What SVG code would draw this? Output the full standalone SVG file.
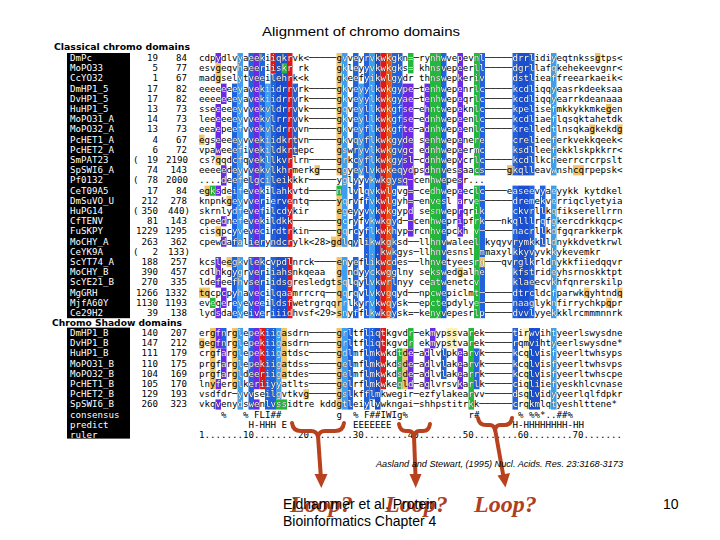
<svg xmlns="http://www.w3.org/2000/svg" width="720" height="540" viewBox="0 0 720 540">
<style>
.s{font-family:"DejaVu Sans Mono","Liberation Mono",monospace;font-size:9.14px}
.n{text-anchor:end}
.lb{fill:#fff}
.hd{font-family:"DejaVu Sans","Liberation Sans",sans-serif;font-size:8.6px;font-weight:bold}
.P{fill:#6b2ae6}.B{fill:#2163df}.L{fill:#3e9ff0}.D{fill:#1b4fd0}.R{fill:#e3161d}.O{fill:#ec5418}.G{fill:#23b83c}.T{fill:#f1c469}.C{fill:#fff1b6}
.br{fill:none;stroke:#b8421e;stroke-width:4;stroke-linecap:round;stroke-linejoin:round}
.ah{fill:#b8421e}
.loop{font-family:"Liberation Serif",serif;font-size:24px;font-weight:bold;font-style:italic;fill:#b0401d}
.ft{font-family:"Liberation Sans",Arial,sans-serif;font-size:14px;fill:#000}
</style>
<defs>
<filter id="wht" filterUnits="userSpaceOnUse" x="0" y="0" width="720" height="540" color-interpolation-filters="sRGB"><feColorMatrix type="matrix" values="0 0 0 0 1 0 0 0 0 1 0 0 0 0 1 0 0 0 1 0"/></filter>
<mask id="dm" maskUnits="userSpaceOnUse" x="0" y="0" width="720" height="540"><use href="#cellsDark" filter="url(#wht)"/></mask>
</defs>
<rect width="720" height="540" fill="#fff"/>
<text id="title" x="262" y="36" font-family="Liberation Sans, Arial, sans-serif" font-size="13" textLength="198" lengthAdjust="spacingAndGlyphs">Alignment of chromo domains</text>
<text class="hd" x="54" y="50" textLength="136" lengthAdjust="spacingAndGlyphs">Classical chromo domains</text>
<text class="hd" x="52" y="325.5" textLength="130" lengthAdjust="spacingAndGlyphs">Chromo Shadow domains</text>

<g id="cellsDark">
<rect class="P" x="215.5" y="53" width="5.5" height="10.2"/>
<rect class="P" x="215.5" y="104" width="5.5" height="51"/>
<rect class="P" x="215.5" y="185.6" width="5.5" height="10.2"/>
<rect class="P" x="215.5" y="257" width="5.5" height="30.6"/>
<rect class="P" x="215.5" y="308" width="5.5" height="10.2"/>
<rect class="P" x="221" y="83.6" width="5.5" height="20.4"/>
<rect class="P" x="221" y="165.2" width="5.5" height="20.4"/>
<rect class="P" x="221" y="216.2" width="5.5" height="10.2"/>
<rect class="P" x="221" y="236.6" width="5.5" height="10.2"/>
<rect class="P" x="221" y="287.6" width="5.5" height="20.4"/>
<rect class="G" x="210" y="185.6" width="5.5" height="10.2"/>
<rect class="G" x="210" y="297.8" width="5.5" height="10.2"/>
<rect class="B" x="232" y="83.6" width="5.5" height="163.2"/>
<rect class="B" x="232" y="257" width="5.5" height="61.2"/>
<rect class="L" x="237.5" y="53" width="5.5" height="193.8"/>
<rect class="L" x="237.5" y="257" width="5.5" height="61.2"/>
<rect class="B" x="248.5" y="53" width="5.5" height="193.8"/>
<rect class="B" x="248.5" y="257" width="5.5" height="61.2"/>
<rect class="P" x="254" y="53" width="5.5" height="193.8"/>
<rect class="P" x="254" y="257" width="5.5" height="61.2"/>
<rect class="B" x="259.5" y="53" width="5.5" height="193.8"/>
<rect class="B" x="259.5" y="257" width="5.5" height="61.2"/>
<rect class="L" x="265" y="83.6" width="5.5" height="102"/>
<rect class="R" x="270.5" y="53" width="5.5" height="20.4"/>
<rect class="B" x="270.5" y="73.4" width="5.5" height="173.4"/>
<rect class="B" x="270.5" y="257" width="5.5" height="61.2"/>
<rect class="D" x="276" y="53" width="11" height="193.8"/>
<rect class="D" x="276" y="257" width="11" height="61.2"/>
<rect class="G" x="281.5" y="63.2" width="5.5" height="10.2"/>
<rect class="R" x="287" y="53" width="5.5" height="193.8"/>
<rect class="R" x="287" y="257" width="5.5" height="61.2"/>
<rect class="B" x="292.5" y="83.6" width="5.5" height="71.4"/>
<rect class="G" x="336.5" y="185.6" width="5.5" height="10.2"/>
<rect class="L" x="342" y="53" width="5.5" height="193.8"/>
<rect class="L" x="342" y="257" width="5.5" height="61.2"/>
<rect class="B" x="353" y="53" width="5.5" height="193.8"/>
<rect class="B" x="353" y="257" width="5.5" height="61.2"/>
<rect class="L" x="358.5" y="83.6" width="5.5" height="91.8"/>
<rect class="B" x="364" y="53" width="5.5" height="265.2"/>
<rect class="L" x="369.5" y="53" width="5.5" height="265.2"/>
<rect class="D" x="375" y="53" width="5.5" height="265.2"/>
<rect class="R" x="380.5" y="53" width="5.5" height="265.2"/>
<rect class="O" x="386" y="53" width="5.5" height="265.2"/>
<rect class="B" x="391.5" y="53" width="5.5" height="265.2"/>
<rect class="B" x="397" y="53" width="5.5" height="132.6"/>
<rect class="P" x="402.5" y="83.6" width="5.5" height="102"/>
<rect class="G" x="408" y="53" width="5.5" height="20.4"/>
<rect class="P" x="408" y="83.6" width="5.5" height="153"/>
<rect class="P" x="424.5" y="83.6" width="5.5" height="91.8"/>
<rect class="G" x="430" y="53" width="11" height="265.2"/>
<rect class="B" x="441" y="53" width="5.5" height="265.2"/>
<rect class="P" x="457.5" y="53" width="5.5" height="183.6"/>
<rect class="G" x="474" y="53" width="5.5" height="122.4"/>
<rect class="G" x="474" y="185.6" width="5.5" height="132.6"/>
<rect class="B" x="479.5" y="53" width="5.5" height="122.4"/>
<rect class="B" x="479.5" y="185.6" width="5.5" height="132.6"/>
<rect class="B" x="512.5" y="53" width="5.5" height="122.4"/>
<rect class="B" x="512.5" y="185.6" width="5.5" height="132.6"/>
<rect class="D" x="518" y="53" width="11" height="122.4"/>
<rect class="D" x="518" y="185.6" width="11" height="132.6"/>
<rect class="B" x="529" y="53" width="5.5" height="122.4"/>
<rect class="B" x="529" y="185.6" width="5.5" height="132.6"/>
<rect class="B" x="540" y="185.6" width="5.5" height="61.2"/>
<rect class="L" x="551" y="53" width="5.5" height="122.4"/>
<rect class="L" x="551" y="185.6" width="5.5" height="132.6"/>
<rect class="P" x="215.5" y="328" width="5.5" height="20.4"/>
<rect class="P" x="215.5" y="379" width="5.5" height="10.2"/>
<rect class="P" x="215.5" y="399.4" width="5.5" height="10.2"/>
<rect class="B" x="221" y="328" width="5.5" height="20.4"/>
<rect class="P" x="221" y="348.4" width="5.5" height="30.6"/>
<rect class="L" x="237.5" y="328" width="5.5" height="81.6"/>
<rect class="B" x="248.5" y="328" width="5.5" height="81.6"/>
<rect class="P" x="254" y="328" width="5.5" height="61.2"/>
<rect class="P" x="254" y="399.4" width="5.5" height="10.2"/>
<rect class="R" x="259.5" y="328" width="5.5" height="61.2"/>
<rect class="B" x="265" y="328" width="11" height="81.6"/>
<rect class="L" x="276" y="328" width="5.5" height="71.4"/>
<rect class="G" x="276" y="399.4" width="11" height="10.2"/>
<rect class="L" x="342" y="328" width="5.5" height="81.6"/>
<rect class="B" x="347.5" y="328" width="5.5" height="81.6"/>
<rect class="B" x="364" y="328" width="5.5" height="81.6"/>
<rect class="B" x="369.5" y="328" width="5.5" height="71.4"/>
<rect class="D" x="375" y="328" width="5.5" height="81.6"/>
<rect class="R" x="380.5" y="328" width="5.5" height="61.2"/>
<rect class="G" x="397" y="348.4" width="5.5" height="40.8"/>
<rect class="G" x="408" y="328" width="5.5" height="20.4"/>
<rect class="P" x="408" y="348.4" width="5.5" height="40.8"/>
<rect class="P" x="424.5" y="348.4" width="5.5" height="40.8"/>
<rect class="P" x="430" y="328" width="5.5" height="20.4"/>
<rect class="B" x="441" y="348.4" width="5.5" height="30.6"/>
<rect class="P" x="457.5" y="348.4" width="5.5" height="40.8"/>
<rect class="G" x="468.5" y="328" width="5.5" height="81.6"/>
<rect class="B" x="474" y="348.4" width="5.5" height="40.8"/>
<rect class="B" x="512.5" y="328" width="5.5" height="81.6"/>
<rect class="D" x="529" y="328" width="11" height="81.6"/>
<rect class="L" x="551" y="328" width="5.5" height="81.6"/>
</g>
<g id="cellsLight">
<rect class="T" x="215.5" y="63.2" width="5.5" height="20.4"/>
<rect class="T" x="215.5" y="155" width="5.5" height="10.2"/>
<rect class="T" x="215.5" y="226.4" width="5.5" height="10.2"/>
<rect class="T" x="199" y="134.6" width="5.5" height="10.2"/>
<rect class="T" x="204.5" y="185.6" width="5.5" height="10.2"/>
<rect class="T" x="226.5" y="195.8" width="5.5" height="10.2"/>
<rect class="T" x="226.5" y="257" width="5.5" height="10.2"/>
<rect class="T" x="199" y="287.6" width="11" height="10.2"/>
<rect class="T" x="336.5" y="53" width="5.5" height="122.4"/>
<rect class="T" x="336.5" y="195.8" width="5.5" height="51"/>
<rect class="T" x="336.5" y="257" width="5.5" height="61.2"/>
<rect class="T" x="314.5" y="165.2" width="5.5" height="10.2"/>
<rect class="T" x="331" y="236.6" width="5.5" height="10.2"/>
<rect class="T" x="507" y="165.2" width="5.5" height="10.2"/>
<rect class="T" x="595" y="53" width="5.5" height="10.2"/>
<rect class="T" x="606" y="104" width="5.5" height="10.2"/>
<rect class="T" x="589.5" y="124.4" width="5.5" height="10.2"/>
<rect class="T" x="617" y="124.4" width="5.5" height="10.2"/>
<rect class="T" x="573" y="165.2" width="11" height="10.2"/>
<rect class="T" x="584" y="287.6" width="5.5" height="10.2"/>
<rect class="T" x="617" y="287.6" width="5.5" height="10.2"/>
<rect class="T" x="606" y="297.8" width="5.5" height="10.2"/>
<rect class="T" x="479.5" y="257" width="5.5" height="10.2"/>
<rect class="T" x="457.5" y="267.2" width="5.5" height="10.2"/>
<rect class="T" x="210" y="328" width="5.5" height="61.2"/>
<rect class="T" x="199" y="338.2" width="5.5" height="10.2"/>
<rect class="T" x="232" y="328" width="5.5" height="61.2"/>
<rect class="T" x="281.5" y="328" width="5.5" height="51"/>
<rect class="T" x="303.5" y="389.2" width="5.5" height="10.2"/>
<rect class="T" x="336.5" y="328" width="5.5" height="81.6"/>
<rect class="T" x="402.5" y="348.4" width="5.5" height="40.8"/>
<rect class="C" x="446.5" y="328" width="11" height="20.4"/>
<rect class="C" x="523.5" y="328" width="5.5" height="81.6"/>
</g>

<g id="seq" class="s" xml:space="preserve">
<text y="61"><tspan x="199">cdpydlvyaeekiiqkrvk&lt;─────</tspan><tspan x="336.5">gvveyrvkwkgkn=─rynhwvepevnl─────</tspan><tspan x="512.5">drrlidiyeqtnkssgtps&lt;</tspan></text>
<text y="71.2"><tspan x="199">esvgeqvhaeeriiskr rk</tspan><tspan x="336.5">gkleyyvkwkgks= khnsvepeerll─────</tspan><tspan x="512.5">dgrllafqkehekeevgnr&lt;</tspan></text>
<text y="81.4"><tspan x="199">madgselytveeilehrk&lt;k</tspan><tspan x="336.5">gkeefyikwlgydr thnswepkeriv</tspan><tspan x="512.5">dstlieaffreearkaeik&lt;</tspan></text>
<text y="91.6"><tspan x="199">eeeeeeeyavekiidrrvrk─────</tspan><tspan x="336.5">gkveyylkwkgype─tenhwepenrlc─────</tspan><tspan x="512.5">kcdliqqyeasrkdeeksaa</tspan></text>
<text y="101.8"><tspan x="199">eeeeeeeyavekiidrrvrk─────</tspan><tspan x="336.5">gkveyylkwkgyae─tenhwepeqrlc─────</tspan><tspan x="512.5">kcdliqqyearrkdeanaaa</tspan></text>
<text y="112"><tspan x="199">sseeeeeyvvekvldrrvvk─────</tspan><tspan x="336.5">gqveyllkwkgfse─ehntwepeknlc─────</tspan><tspan x="512.5">kpelisefmkkykkmkegen</tspan></text>
<text y="122.2"><tspan x="199">leeeeeeyvvekvlrrrvvk─────</tspan><tspan x="336.5">gkveyllkwkgfse─ednhwepeenlc─────</tspan><tspan x="512.5">kcdliaeflqsqktahetdk</tspan></text>
<text y="132.4"><tspan x="199">eeaepeefvvekvldrrvvn─────</tspan><tspan x="336.5">gkveyflkwkgfte─adnhwepeenlc─────</tspan><tspan x="512.5">krelledtlnsqkagkekdg</tspan></text>
<text y="142.6"><tspan x="199">egseeeeyvvekiidkrtvn─────</tspan><tspan x="336.5">gkvqyflkwkgyde senhwepenere</tspan><tspan x="512.5">crelieeferkvekkqeek&lt;</tspan></text>
<text y="152.8"><tspan x="199">vpaweeefivekildkrtepc</tspan><tspan x="336.5">gswryvlkwkgvgc ednhwepeermc</tspan><tspan x="512.5">ksdlleefekklskpkkrr&lt;</tspan></text>
<text y="163"><tspan x="199">cs?qqdcfqvekllkvrlrn─────</tspan><tspan x="336.5">grkcyflkwkgysl─cdnhwepvcrlc─────</tspan><tspan x="512.5">kcdllkcfeerrcrcrpslt</tspan></text>
<text y="173.2"><tspan x="199">eeeeedeyvvekvlkhrmerkg───</tspan><tspan x="336.5">qgyeylvkwkeqydpsdhnvessaacs────g</tspan><tspan x="512.5">kqlleavwnshcqrpepsk&lt;</tspan></text>
<text y="183.4"><tspan x="199">....deefelgcileikkkr─────</tspan><tspan x="336.5">yglyyvkwkgysq─cenhwepesr...</tspan></text>
<text y="193.6"><tspan x="199">egksdeifevekilahkvtd─────</tspan><tspan x="336.5">n lvlqvkwlgvg=─cedhwepeeclc────e</tspan><tspan x="512.5">aseevyaeyykk kytdkel</tspan></text>
<text y="203.8"><tspan x="199">knpnkgeyvverierventq─────</tspan><tspan x="336.5">yqrvffvkwlgyh=─envesl arve──────</tspan><tspan x="512.5">dremekverriqclyetyia</tspan></text>
<text y="214"><tspan x="199">skrnlydfevefilcdykir</tspan><tspan x="336.5">egeyyvvkwkgypd sesnweprqrik</tspan><tspan x="512.5">ckvrllkqfikserellrrn</tspan></text>
<text y="224.2"><tspan x="199">cpeednefevekildkk────────</tspan><tspan x="336.5">gcryfvkwkgyd──cenhwepripfrk───nk</tspan><tspan x="512.5">qlllrqfgkercdrkkqcp&lt;</tspan></text>
<text y="234.4"><tspan x="199">cisqpcyvevecirdtrkin─────</tspan><tspan x="336.5">gqrcyflkwkhyp─rcnhvepckh v──────</tspan><tspan x="512.5">nacrllkdfgqrarkkerpk</tspan></text>
<text y="244.6"><tspan x="199">cpewdafalieryndcrylk&lt;28&gt;g</tspan><tspan x="336.5">dlqylikwkgksd──llhnvwaleel kyqyv</tspan><tspan x="512.5">rymkklldnykkdvetkrwl</tspan></text>
<text y="254.8"><tspan x="364">...kwkgys─llhnvesnsl mmaxyl</tspan><tspan x="512.5">kkyvyvkkykevemkr</tspan></text>
<text y="265"><tspan x="199">kcsleegkvlekcvpdlnrck────</tspan><tspan x="336.5">enyeflikwcdes──lhnvetyeesrg───qv</tspan><tspan x="512.5">rglkrldnykkfiiedqqvr</tspan></text>
<text y="275.2"><tspan x="199">cdlhkgygrveriiahsnkqeaa</tspan><tspan x="336.5">g ndyyckwgglny sekswedgalhe</tspan><tspan x="512.5">kfstrideyhsrnoskktpt</tspan></text>
<text y="285.4"><tspan x="199">ldefeefhvseriidsgresledgt</tspan><tspan x="336.5">sqlqylvkwrlnyy ceatwenetcv</tspan><tspan x="512.5">klaeecvkhfqnrerskilp</tspan></text>
<text y="295.6"><tspan x="199">tqcpcpyhavecilqaamrrcrq──</tspan><tspan x="336.5">qqrqvlvkvgqyd──npcwepiclmt──────</tspan><tspan x="512.5">dtrcldcfparwkqyhtndq</tspan></text>
<text y="305.8"><tspan x="199">eveqereyeveeildsfwetrgrqq</tspan><tspan x="336.5">rrlkyrvkwqysk──epctepdylye──────</tspan><tspan x="512.5">naaglyknfirrychkpqpr</tspan></text>
<text y="316"><tspan x="199">lydsdaeyeiveriiidhvsf&lt;29&gt;</tspan><tspan x="336.5">snyfflkwkgysk=─kenyvepesrlp─────</tspan><tspan x="512.5">dvvlyyekkklrcmmmnnrk</tspan></text>
<text y="336"><tspan x="199">ergfnrglepekiigasdrn─────</tspan><tspan x="336.5">grltfliqtkgvdr─ekmypssvarek─────</tspan><tspan x="512.5">tirwvihtyeerlswysdne</tspan></text>
<text y="346.2"><tspan x="199">gegfnrglepekiigasdrn─────</tspan><tspan x="336.5">grltfliqtkgvdr ekmypstvarek─────</tspan><tspan x="512.5">rqmvihtyeerlswysdne*</tspan></text>
<text y="356.4"><tspan x="199">crgfarglepekiigatdsc─────</tspan><tspan x="336.5">gdlmflmkwkdtde─adlvlpkearvk─────</tspan><tspan x="512.5">kcqlvisfyeerltwhsyps</tspan></text>
<text y="366.6"><tspan x="199">prgfarglepekiigatdss─────</tspan><tspan x="336.5">gelmflmkwkdsde─adlvlakearvk─────</tspan><tspan x="512.5">kcqlvisfyeerltwhsvps</tspan></text>
<text y="376.8"><tspan x="199">prgfargldeeriigatdes─────</tspan><tspan x="336.5">gelmflmkwkdsde─adlvlakearrk─────</tspan><tspan x="512.5">kcqlvisfyeerltwhscpe</tspan></text>
<text y="387"><tspan x="199">lnyferglkeriiyyatlts─────</tspan><tspan x="336.5">gelrflmkwkeqld─aqlvrsvkarlk─────</tspan><tspan x="512.5">ciqliiefyeskhlcvnase</tspan></text>
<text y="397.2"><tspan x="199">vsdfdr─yvvseilgvtkvg─────</tspan><tspan x="336.5">gslkfflmkwegir─ezfylakearvv─────</tspan><tspan x="512.5">dsqlvidyyeerlqlfdpkr</tspan></text>
<text y="407.4"><tspan x="199">vkqvenydswenlvssidtre kdd</tspan><tspan x="336.5">gtleiylvwkngai─shhpstitrkk──────</tspan><tspan x="512.5">crqkmlqtyeshlttene*</tspan></text>
<text y="417.6"><tspan x="221">%</tspan><tspan x="243">%</tspan><tspan x="254">FLI##</tspan><tspan x="336.5">g</tspan><tspan x="353">%</tspan><tspan x="364">F##IWIg%</tspan><tspan x="468.5">r#</tspan><tspan x="518">%</tspan><tspan x="529">%%*..##%</tspan></text>
<text y="427.8"><tspan x="248.5">H-HHH E</tspan><tspan x="353">EEEEEEE</tspan><tspan x="512.5">H-HHHHHHHH-HH</tspan></text>
<text y="438" x="199">1.......10........20........30........40........50........60........70.......</text>
</g>
<use href="#seq" fill="#fff" mask="url(#dm)"/>

<g id="labels" class="s">
<rect x="67" y="53" width="63" height="265.2" fill="#000"/>
<rect x="67" y="327.6" width="63" height="111" fill="#000"/>
<g class="lb">
<text x="70" y="61">DmPc</text>
<text x="70" y="71.2">MoPO33</text>
<text x="70" y="81.4">CcYO32</text>
<text x="70" y="91.6">DmHP1_5</text>
<text x="70" y="101.8">DvHP1_5</text>
<text x="70" y="112">HuHP1_5</text>
<text x="70" y="122.2">MoPO31_A</text>
<text x="70" y="132.4">MoPO32_A</text>
<text x="70" y="142.6">PcHET1_A</text>
<text x="70" y="152.8">PcHET2_A</text>
<text x="70" y="163">SmPAT23</text>
<text x="70" y="173.2">SpSWI6_A</text>
<text x="70" y="183.4">Pf0132</text>
<text x="70" y="193.6">CeT09A5</text>
<text x="70" y="203.8">DmSuVO_U</text>
<text x="70" y="214">HuPG14</text>
<text x="70" y="224.2">CfTENV</text>
<text x="70" y="234.4">FuSKPY</text>
<text x="70" y="244.6">MoCHY_A</text>
<text x="70" y="254.8">CeYK9A</text>
<text x="70" y="265">ScYT74_A</text>
<text x="70" y="275.2">MoCHY_B</text>
<text x="70" y="285.4">ScYE21_B</text>
<text x="70" y="295.6">MgGRH</text>
<text x="70" y="305.8">MjfA60Y</text>
<text x="70" y="316">Ce29H2</text>
<text x="70" y="336">DmHP1_B</text>
<text x="70" y="346.2">DvHP1_B</text>
<text x="70" y="356.4">HuHP1_B</text>
<text x="70" y="366.6">MoPO31_B</text>
<text x="70" y="376.8">MoPO32_B</text>
<text x="70" y="387">PcHET1_B</text>
<text x="70" y="397.2">PcHET2_B</text>
<text x="70" y="407.4">SpSWI6_B</text>
<text x="70" y="417.6">consensus</text>
<text x="70" y="427.8">predict</text>
<text x="70" y="438">ruler</text>
</g>
<g class="n">
<text x="158" y="61">19</text><text x="187" y="61">84</text>
<text x="158" y="71.2">5</text><text x="187" y="71.2">77</text>
<text x="158" y="81.4">1</text><text x="187" y="81.4">67</text>
<text x="158" y="91.6">17</text><text x="187" y="91.6">82</text>
<text x="158" y="101.8">17</text><text x="187" y="101.8">82</text>
<text x="158" y="112">13</text><text x="187" y="112">73</text>
<text x="158" y="122.2">14</text><text x="187" y="122.2">73</text>
<text x="158" y="132.4">13</text><text x="187" y="132.4">73</text>
<text x="158" y="142.6">4</text><text x="187" y="142.6">67</text>
<text x="158" y="152.8">6</text><text x="187" y="152.8">72</text>
<text x="158" y="163">19</text><text x="188" y="163">2190</text>
<text x="158" y="173.2">74</text><text x="187" y="173.2">143</text>
<text x="158" y="183.4">78</text><text x="188" y="183.4">2000</text>
<text x="158" y="193.6">17</text><text x="187" y="193.6">84</text>
<text x="158" y="203.8">212</text><text x="187" y="203.8">278</text>
<text x="158" y="214">350</text><text x="190" y="214">440)</text>
<text x="158" y="224.2">81</text><text x="187" y="224.2">143</text>
<text x="158" y="234.4">1229</text><text x="187" y="234.4">1295</text>
<text x="158" y="244.6">263</text><text x="187" y="244.6">362</text>
<text x="158" y="254.8">2</text><text x="190" y="254.8">133)</text>
<text x="158" y="265">188</text><text x="187" y="265">257</text>
<text x="158" y="275.2">390</text><text x="187" y="275.2">457</text>
<text x="158" y="285.4">270</text><text x="187" y="285.4">335</text>
<text x="158" y="295.6">1266</text><text x="187" y="295.6">1332</text>
<text x="158" y="305.8">1130</text><text x="187" y="305.8">1193</text>
<text x="158" y="316">39</text><text x="187" y="316">138</text>
<text x="158" y="336">140</text><text x="187" y="336">207</text>
<text x="158" y="346.2">147</text><text x="187" y="346.2">212</text>
<text x="158" y="356.4">111</text><text x="187" y="356.4">179</text>
<text x="158" y="366.6">110</text><text x="187" y="366.6">175</text>
<text x="158" y="376.8">104</text><text x="187" y="376.8">169</text>
<text x="158" y="387">105</text><text x="187" y="387">170</text>
<text x="158" y="397.2">129</text><text x="187" y="397.2">193</text>
<text x="158" y="407.4">260</text><text x="187" y="407.4">323</text>
</g>
<text x="133" y="163">(</text>
<text x="133" y="183.4">(</text>
<text x="133" y="214">(</text>
<text x="133" y="254.8">(</text>
</g>

<g id="annotations">
<path class="br" d="M292,423 Q293,431 301,431 L311,431 Q317,431 318,437 Q319,431 325,431 L335,431 Q343,431 344,423"/>
<line class="br" x1="318" y1="436" x2="320.8" y2="476"/>
<polygon class="ah" points="314.5,474 327.5,474 321.3,488"/>
<path class="br" d="M399,424 Q400,431 406,431 L409,431 Q413,431 414,437 Q415,431 419,431 L423,431 Q429,431 430,424"/>
<line class="br" x1="414" y1="436" x2="415.5" y2="476"/>
<polygon class="ah" points="409.5,474 421.5,474 415.7,488"/>
<path class="br" d="M478,418 Q479,425 486,425 L490,425 Q494,425 495,430 Q496,425 500,425 L505,425 Q511,425 512,418"/>
<line class="br" x1="495" y1="429" x2="503" y2="474"/>
<polygon class="ah" points="497.5,475.5 510,473 505.5,487.5"/>
</g>

<g id="footer">
<text x="376" y="467" font-family="Liberation Sans, Arial, sans-serif" font-size="8.5" font-style="italic" textLength="247" lengthAdjust="spacingAndGlyphs">Aasland and Stewart, (1995) Nucl. Acids. Res. 23:3168-3173</text>
<text class="loop" x="290" y="512">Loop?</text>
<text class="loop" x="385" y="512">Loop?</text>
<text class="loop" x="474" y="512">Loop?</text>
<text class="ft" x="283" y="508.5">Eidhammer et al. Protein</text>
<text class="ft" x="283" y="525.5">Bioinformatics Chapter 4</text>
<text class="ft" x="663" y="508.5">10</text>
</g>
</svg>
